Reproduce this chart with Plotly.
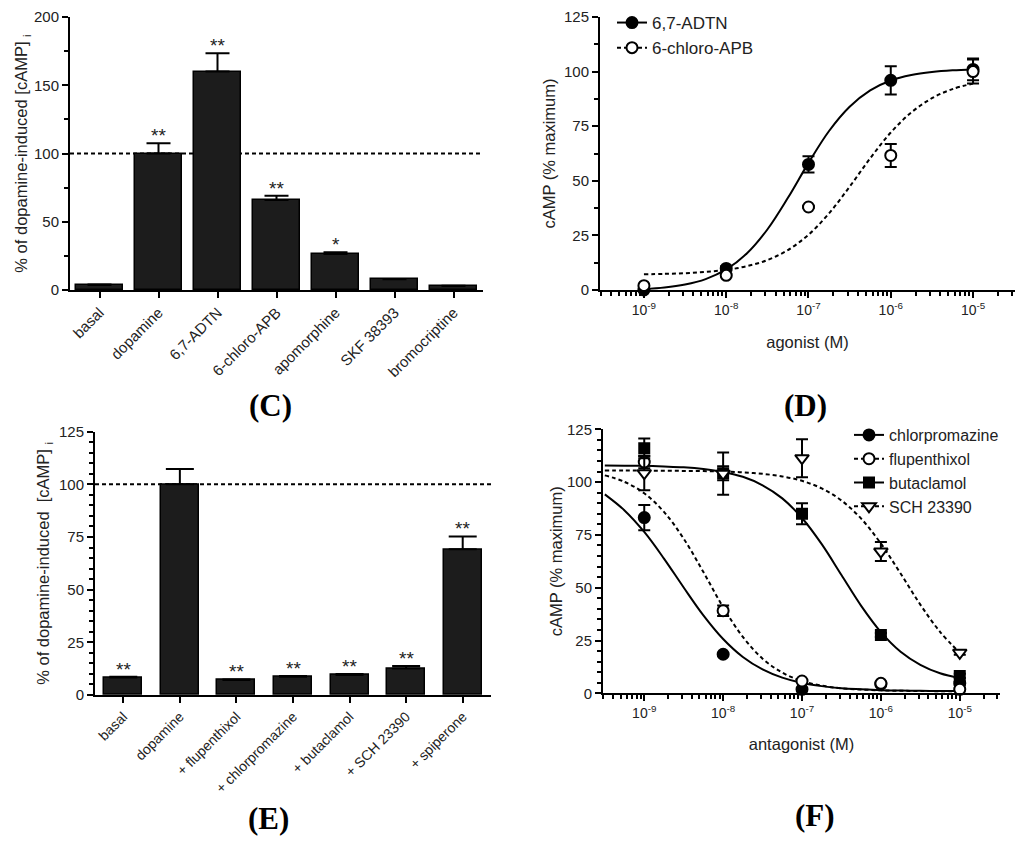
import plotly.graph_objects as go

# Panel C - agonist responses (% of dopamine-induced cAMP)
c_labels = ["basal", "dopamine", "6,7-ADTN", "6-chloro-APB", "apomorphine", "SKF 38393", "bromocriptine"]
c_values = [3.7, 100, 160, 66, 26.4, 7.8, 2.9]
c_sem = [0.3, 7.5, 13.5, 3, 1.2, 0.3, 0.3]
c_stars = ["", "**", "**", "**", "*", "", ""]

# Panel D - concentration-response to agonists
d_conc = [1e-9, 1e-8, 1e-7, 1e-6, 1e-5]
adtn = [0, 9.9, 57.5, 96, 101]
adtn_sem = [0.5, 1, 3.7, 6.5, 5]
capb = [2, 6.7, 38, 61.6, 100]
capb_sem = [0.5, 0.5, 0.5, 5.3, 5.5]
d_fit_logx = [-9.0, -8.75, -8.5, -8.25, -8.0, -7.75, -7.5, -7.25, -7.0, -6.75,
              -6.5, -6.25, -6.0, -5.75, -5.5, -5.25, -5.0]
adtn_fit = [0.4, 1.1, 2.5, 5.0, 9.4, 16.7, 27.7, 42.2, 58.2, 72.8,
            83.9, 91.4, 95.9, 98.4, 99.8, 100.6, 101.0]
capb_fit = [7.2, 7.4, 7.7, 8.3, 9.2, 10.9, 13.7, 18.3, 25.3, 35.1,
            47.3, 60.3, 72.1, 81.3, 87.8, 92.0, 94.5]

# Panel E - antagonist block of dopamine response
e_labels = ["basal", "dopamine", "+ flupenthixol", "+ chlorpromazine", "+ butaclamol", "+ SCH 23390", "+ spiperone"]
e_values = [8.3, 100, 7.1, 8.7, 9.5, 12.6, 69.2]
e_sem = [0.4, 7.3, 0.3, 0.3, 0.5, 1.2, 6.1]
e_stars = ["**", "", "**", "**", "**", "**", "**"]

# Panel F - antagonist concentration-response
f_conc = [1e-9, 1e-8, 1e-7, 1e-6, 1e-5]
chlor = [83.2, 18.5, 1.9, 4.3, 4.7]
chlor_sem = [6, 0.5, 0.5, 0.5, 0.5]
flup = [109.5, 39.1, 5.8, 4.7, 1.9]
flup_sem = [3, 2.5, 0.5, 0.5, 0.5]
buta = [116, 104.2, 85, 27.6, 8.2]
buta_sem = [4.7, 3.3, 5, 1, 1]
sch = [104.2, 104, 111.3, 67.1, 19.2]
sch_sem = [8, 10, 9, 4.5, 1]
f_fit_logx = [-9.5, -9.25, -9.0, -8.75, -8.5, -8.25, -8.0, -7.75, -7.5, -7.25,
              -7.0, -6.75, -6.5, -6.25, -6.0, -5.75, -5.5, -5.25, -5.0]
chlor_fit = [94.2, 86.6, 76.4, 63.8, 50.1, 36.9, 25.7, 17.2, 11.3, 7.4,
             4.9, 3.4, 2.4, 1.9, 1.5, 1.3, 1.2, 1.1, 1.1]
flup_fit = [103.2, 100.1, 94.7, 85.9, 73.2, 57.4, 40.8, 26.7, 16.4, 9.8,
            5.8, 3.6, 2.4, 1.8, 1.4, 1.2, 1.1, 1.0, 1.0]
buta_fit = [107.9, 107.8, 107.7, 107.4, 107.0, 106.2, 104.8, 102.5, 98.5, 92.3,
            83.0, 70.6, 56.0, 41.4, 29.0, 19.7, 13.5, 9.5, 7.2]
sch_fit = [105.5, 105.5, 105.4, 105.4, 105.3, 105.2, 105.0, 104.6, 103.9, 102.7,
           100.6, 97.0, 91.3, 82.7, 70.9, 56.7, 42.0, 29.1, 19.2]

W, H = 1024, 841
FONT = "Liberation Sans, Arial, sans-serif"
TXT = "#222"
DASH = "4px,3px"
BAR_COLOR = "#1c1c1c"

fig = go.Figure()

# bars C
fig.add_trace(go.Bar(
    x=c_labels, y=c_values, width=0.8,
    marker=dict(color=BAR_COLOR, line=dict(color="black", width=1.5)),
    error_y=dict(type="data", array=c_sem, arrayminus=[0] * len(c_sem), symmetric=False,
                 color="black", thickness=2, width=12),
    xaxis="x", yaxis="y", showlegend=False))

# bars E
fig.add_trace(go.Bar(
    x=e_labels, y=e_values, width=0.67,
    marker=dict(color=BAR_COLOR, line=dict(color="black", width=1.5)),
    error_y=dict(type="data", array=e_sem, arrayminus=[0] * len(e_sem), symmetric=False,
                 color="black", thickness=2, width=14),
    xaxis="x3", yaxis="y3", showlegend=False))


def add_curve(logx, yvals, dash, xa, ya):
    fig.add_trace(go.Scatter(
        x=[10 ** v for v in logx], y=yvals, mode="lines",
        line=dict(color="black", width=2, dash=dash, shape="spline"),
        xaxis=xa, yaxis=ya, showlegend=False, hoverinfo="skip"))


def add_points(xs, ys, err, symbol, fill, xa, ya, size=11):
    fig.add_trace(go.Scatter(
        x=xs, y=ys, mode="markers", cliponaxis=False,
        marker=dict(symbol=symbol, size=size, color=fill, line=dict(color="black", width=2)),
        error_y=dict(type="data", array=err, color="black", thickness=2, width=6),
        xaxis=xa, yaxis=ya, showlegend=False))


def add_legend_entry(name, symbol, fill, dash, legend, size=11):
    fig.add_trace(go.Scatter(
        x=[None], y=[None], mode="lines+markers", name=name, legend=legend,
        line=dict(color="black", width=2, dash=dash),
        marker=dict(symbol=symbol, size=size, color=fill, line=dict(color="black", width=2)),
        xaxis="x2", yaxis="y2"))


# panel D
add_curve(d_fit_logx, adtn_fit, "solid", "x2", "y2")
add_curve(d_fit_logx, capb_fit, DASH, "x2", "y2")
add_points(d_conc, adtn, adtn_sem, "circle", "black", "x2", "y2")
add_points(d_conc, capb, capb_sem, "circle", "white", "x2", "y2")
add_legend_entry("6,7-ADTN", "circle", "black", "solid", "legend")
add_legend_entry("6-chloro-APB", "circle", "white", DASH, "legend")

# panel F
add_curve(f_fit_logx, chlor_fit, "solid", "x4", "y4")
add_curve(f_fit_logx, flup_fit, DASH, "x4", "y4")
add_curve(f_fit_logx, buta_fit, "solid", "x4", "y4")
add_curve(f_fit_logx, sch_fit, DASH, "x4", "y4")
add_points(f_conc, chlor, chlor_sem, "circle", "black", "x4", "y4")
add_points(f_conc, flup, flup_sem, "circle", "white", "x4", "y4")
add_points(f_conc, buta, buta_sem, "square", "black", "x4", "y4", size=10)
add_points(f_conc, sch, sch_sem, "triangle-down", "white", "x4", "y4", size=12)
add_legend_entry("chlorpromazine", "circle", "black", "solid", "legend2")
add_legend_entry("flupenthixol", "circle", "white", DASH, "legend2")
add_legend_entry("butaclamol", "square", "black", "solid", "legend2", size=10)
add_legend_entry("SCH 23390", "triangle-down", "white", DASH, "legend2", size=12)

# axes
axis_common = dict(showline=True, linecolor="black", linewidth=2, ticks="outside",
                   tickwidth=2, ticklen=6, tickcolor="black", showgrid=False,
                   zeroline=False, automargin=False,
                   tickfont=dict(family=FONT, size=15, color=TXT))
title_font = dict(family=FONT, size=16.5, color=TXT)

log_major = [1e-9, 1e-8, 1e-7, 1e-6, 1e-5]
log_text = ["10<sup>-9</sup>", "10<sup>-8</sup>", "10<sup>-7</sup>", "10<sup>-6</sup>", "10<sup>-5</sup>"]
log_minor = [k * 10.0 ** e for e in range(-10, -4) for k in range(2, 10)]


def px_domain(a, b, total):
    return [a / total, b / total]


fig.update_layout(
    width=W, height=H,
    margin=dict(l=0, r=0, t=0, b=0, autoexpand=False),
    paper_bgcolor="white", plot_bgcolor="white",
    font=dict(family=FONT, size=15, color=TXT),
    bargap=0,
    xaxis=dict(axis_common, domain=px_domain(70, 483, W), anchor="y", type="category",
               range=[-0.5, 6.5], tickangle=-45),
    yaxis=dict(axis_common, domain=[1 - 290 / H, 1 - 17 / H], anchor="x", range=[0, 200],
               dtick=50, minor=dict(dtick=25, ticks="outside", ticklen=4, tickwidth=2, tickcolor="black"),
               title=dict(text="% of dopamine-induced [cAMP] <sub>i</sub>", font=title_font, standoff=2)),
    xaxis2=dict(axis_common, domain=px_domain(600, 1015, W), anchor="y2", type="log",
                range=[-9.534, -4.49], tickvals=log_major, ticktext=log_text,
                tickfont=dict(family=FONT, size=14, color=TXT),
                minor=dict(tickvals=log_minor, ticks="outside", ticklen=4, tickwidth=1.5, tickcolor="black"),
                title=dict(text="agonist (M)", font=title_font, standoff=20)),
    yaxis2=dict(axis_common, domain=[1 - 290 / H, 1 - 17 / H], anchor="x2", range=[0, 125],
                dtick=25, minor=dict(dtick=12.5, ticks="outside", ticklen=4, tickwidth=2, tickcolor="black"),
                title=dict(text="cAMP (% maximum)", font=title_font, standoff=4)),
    xaxis3=dict(axis_common, domain=px_domain(95, 491, W), anchor="y3", type="category",
                range=[-0.5, 6.5], tickangle=-45, tickfont=dict(family=FONT, size=14, color=TXT)),
    yaxis3=dict(axis_common, domain=[1 - 695 / H, 1 - 431.7 / H], anchor="x3", range=[0, 125],
                dtick=25, minor=dict(dtick=5, ticks="outside", ticklen=4, tickwidth=1.5, tickcolor="black"),
                title=dict(text="% of dopamine-induced  [cAMP] <sub>i</sub>", font=title_font, standoff=5)),
    xaxis4=dict(axis_common, domain=px_domain(603, 1000, W), anchor="y4", type="log",
                range=[-9.523, -4.49], tickvals=log_major, ticktext=log_text,
                tickfont=dict(family=FONT, size=14, color=TXT),
                minor=dict(tickvals=log_minor, ticks="outside", ticklen=4, tickwidth=1.5, tickcolor="black"),
                title=dict(text="antagonist (M)", font=title_font, standoff=18)),
    yaxis4=dict(axis_common, domain=[1 - 693.3 / H, 1 - 429.3 / H], anchor="x4", range=[0, 125],
                dtick=25, minor=dict(dtick=5, ticks="outside", ticklen=4, tickwidth=1.5, tickcolor="black"),
                title=dict(text="cAMP (% maximum)", font=title_font, standoff=0)),
    legend=dict(x=612 / W, y=1 - 5 / H, xanchor="left", yanchor="top", bgcolor="rgba(0,0,0,0)",
                font=dict(family=FONT, size=17, color=TXT), tracegroupgap=0),
    legend2=dict(x=849 / W, y=1 - 418 / H, xanchor="left", yanchor="top", bgcolor="rgba(0,0,0,0)",
                 font=dict(family=FONT, size=16, color=TXT), tracegroupgap=0),
)

# dashed reference line at 100 %
for xa, ya in [("x", "y"), ("x3", "y3")]:
    fig.add_shape(type="line", xref=xa + " domain", yref=ya, x0=0, x1=1, y0=100, y1=100,
                  line=dict(color="black", width=2, dash=DASH), layer="below")

# significance stars
for labels, values, sem, stars, xa, ya in [(c_labels, c_values, c_sem, c_stars, "x", "y"),
                                           (e_labels, e_values, e_sem, e_stars, "x3", "y3")]:
    for lab, v, s, st in zip(labels, values, sem, stars):
        if st:
            fig.add_annotation(x=lab, y=v + s, xref=xa, yref=ya, text=st, showarrow=False,
                               yanchor="bottom", yshift=-5,
                               font=dict(family=FONT, size=19, color=TXT))

# panel letters
for letter, xp, yp in [("(C)", 270, 405), ("(D)", 805, 405), ("(E)", 268, 818), ("(F)", 815, 815)]:
    fig.add_annotation(x=xp / W, y=1 - yp / H, xref="paper", yref="paper", text="<b>" + letter + "</b>",
                       showarrow=False, xanchor="center", yanchor="middle",
                       font=dict(family="Liberation Serif, Times New Roman, serif", size=31, color="black"))

fig.write_html("out.html", config={"displayModeBar": False},
               post_script="document.body.style.margin='0px';")
